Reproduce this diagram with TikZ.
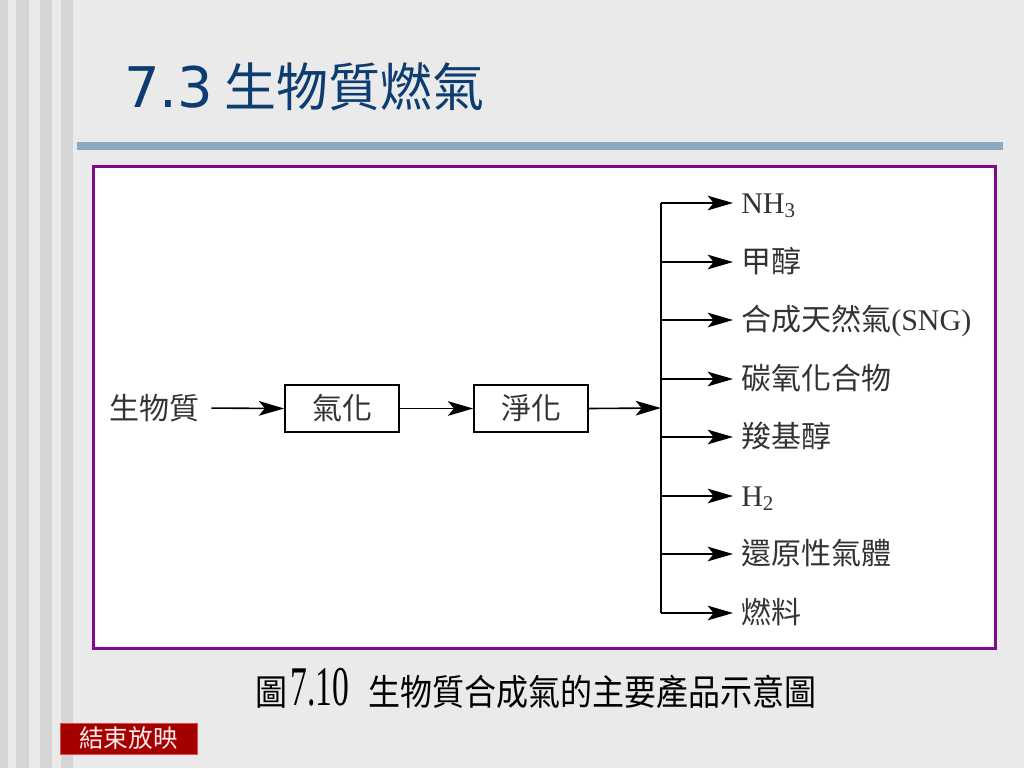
\documentclass[tikz,border=0pt]{standalone}
\usepackage{fontspec}
\setmainfont{Liberation Serif}
\newfontfamily\cjk{Noto Sans CJK TC}
\newfontfamily\titlelat{DejaVu Sans}
\usetikzlibrary{arrows.meta}
\definecolor{bg}{HTML}{EAEAEA}
\definecolor{stripe}{HTML}{D5D5D5}
\definecolor{barblue}{HTML}{8EA8C3}
\definecolor{frame}{HTML}{800A8A}
\definecolor{titleblue}{HTML}{0C3C70}
\definecolor{txtgray}{HTML}{333333}
\definecolor{btnred}{HTML}{A40000}
\definecolor{btnedge}{HTML}{D85050}
\definecolor{btntext}{HTML}{FBEAEA}
\tikzset{
  lbl/.style={inner sep=0pt, text=txtgray, font=\cjk\fontsize{22.5}{26}\selectfont},
  prodlbl/.style={inner sep=0pt, anchor=base west, text=txtgray, font=\fontsize{22.5}{26}\selectfont},
  procbox/.style={draw=black, line width=1.2pt, fill=white, minimum width=85.5pt, minimum height=35.25pt, inner sep=0pt, text=txtgray, font=\cjk\fontsize{22.5}{26}\selectfont},
  arr/.style={-{Stealth[length=19pt,width=11pt,inset=4.5pt]}, line width=1.2pt, draw=black},
  plainline/.style={line width=1.2pt, draw=black},
  btn/.style={fill=btnred, draw=btnedge, line width=0.6pt, minimum width=102.75pt, minimum height=23.25pt, inner sep=0pt, text=btntext, font=\cjk\fontsize{18.5}{22}\selectfont}
}
\begin{document}
\begin{tikzpicture}[x=0.75pt,y=-0.75pt]
\useasboundingbox (0,0) rectangle (1024,768);
\fill[bg] (0,0) rectangle (1024,768);
% left stripes
\fill[stripe] (0,0) rectangle (8,768);
\fill[stripe] (16,0) rectangle (29,768);
\fill[stripe] (40,0) rectangle (52,768);
\fill[stripe] (61,0) rectangle (73,768);
% title
\node[anchor=base west, inner sep=0pt, text=titleblue, font=\titlelat\fontsize{42}{48}\selectfont] (tnum) at (124,107) {7.3};
\node[anchor=base west, inner sep=0pt, text=titleblue, font=\cjk\fontsize{39}{44}\selectfont] (ttxt) at (224,106) {生物質燃氣};
% title bar
\fill[barblue] (77,142) rectangle (1003,150);
% frame
\draw[frame, line width=2.2pt, fill=white] (93.5,166.5) rectangle (995.5,648.5);
% process chain
\node[lbl] (bio) at (154,408) {生物質};
\node[procbox] (gas) at (342,408.5) {氣化};
\node[procbox] (pur) at (531,408.5) {淨化};
\coordinate (jn) at (661,408);
\coordinate (b1) at (661,203);
\coordinate (b2) at (661,262);
\coordinate (b3) at (661,320);
\coordinate (b4) at (661,379);
\coordinate (b5) at (661,437);
\coordinate (b6) at (661,496);
\coordinate (b7) at (661,554);
\coordinate (b8) at (661,613);
\draw[arr, shorten <=9pt] (bio.east) -- (gas.west);
\draw[arr] (gas.east) -- (pur.west);
\draw[arr] (pur.east) -- (jn);
\draw[plainline] (b1) -- (b8);
% products
\node[prodlbl] (p1) at (741,213.5) {NH\textsubscript{3}};
\node[prodlbl] (p2) at (741,272.5) {\cjk 甲醇};
\node[prodlbl] (p3) at (741,330.5) {{\cjk 合成天然氣}(SNG)};
\node[prodlbl] (p4) at (741,389.5) {\cjk 碳氧化合物};
\node[prodlbl] (p5) at (741,447.5) {\cjk 羧基醇};
\node[prodlbl] (p6) at (741,506.5) {H\textsubscript{2}};
\node[prodlbl] (p7) at (741,564.5) {\cjk 還原性氣體};
\node[prodlbl] (p8) at (741,623.5) {\cjk 燃料};
\foreach \i in {1,...,8}{
  \draw[arr, shorten >=6pt] (b\i) -- (b\i -| p\i.west);
}
% caption
\node[inner sep=0pt, text=black] (cap) at (536,688) {\scalebox{1}[1.12]{\cjk\fontsize{24}{28}\selectfont 圖}\hspace{2pt}\scalebox{0.6}[1.0]{\fontsize{42}{48}\selectfont 7.10}\hspace{14pt}\scalebox{1}[1.12]{\cjk\fontsize{24}{28}\selectfont 生物質合成氣的主要產品示意圖}};
% button
\node[btn] (endshow) at (128.5,738.5) {結束放映};
\end{tikzpicture}
\end{document}
